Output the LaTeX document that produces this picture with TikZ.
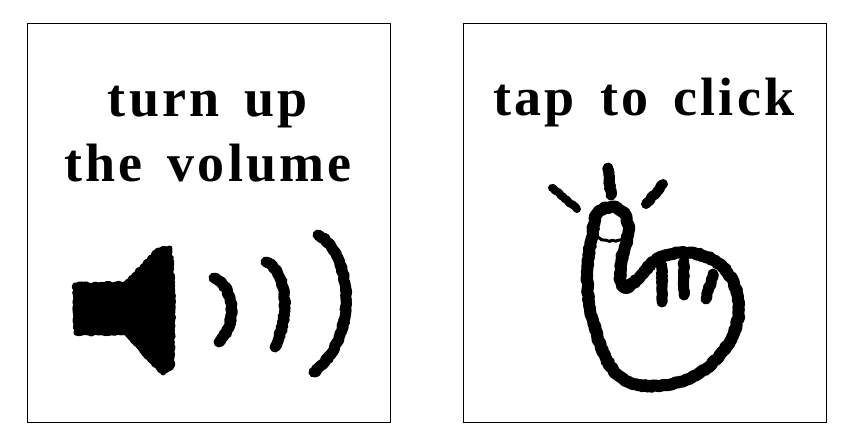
\documentclass[tikz,border=0pt]{standalone}
\usepackage{fontspec}
\setmainfont[LetterSpace=6,WordSpace=1.5]{Liberation Serif}
\usetikzlibrary{decorations.pathmorphing}
\tikzset{
  panel/.style={draw,line width=0.8pt,fill=white},
  caption/.style={font=\fontsize{54}{65}\selectfont\bfseries,align=center,inner sep=0pt},
  brush/.style={draw,line cap=round,line join=round,line width=#1,
    decoration={random steps,segment length=2pt,amplitude=0.9pt},decorate},
  brush/.default=12pt
}

\begin{document}
\begin{tikzpicture}[x=1pt,y=-1pt]
  \useasboundingbox (0,0) rectangle (851,447);
  \draw[panel] (27,23) rectangle (390,422);
  \draw[panel] (463,23) rectangle (826,422);

  \node[caption] (volume) at (208,134) {turn up\\the volume};
  \node[caption] (tap) at (644,103) {tap to click};

  % speaker
  \path[brush=5pt,fill=black] (75,285) -- (126,284) -- (158,250) -- (170,248)
    -- (173,300) -- (172,366) -- (163,373) -- (150,360) -- (127,333) -- (76,333) -- cycle;
  \path[brush=11pt] (214,278) .. controls (232,285) and (240,320) .. (219,342);
  \path[brush=11pt] (266,262) .. controls (285,270) and (292,310) .. (275,347);
  \path[brush=11pt] (318,235) .. controls (350,250) and (362,335) .. (314,372);

  % finger
  \path[brush=8pt] (552,188) -- (577,209);
  \path[brush=11pt] (608,168) -- (611,195);
  \path[brush=10pt] (663,184) -- (646,204);
  \path[brush] (593,235) .. controls (592,214) and (601,207) .. (611,207)
    .. controls (624,207) and (632,222) .. (627,240)
    .. controls (620,260) and (617,280) .. (624,287)
    .. controls (632,290) and (642,270) .. (658,258)
    .. controls (680,248) and (712,252) .. (727,272)
    .. controls (748,300) and (738,335) .. (722,352)
    .. controls (700,382) and (660,392) .. (630,383)
    .. controls (605,372) and (598,340) .. (590,310)
    .. controls (585,285) and (587,255) .. (593,235);
  \path[brush=3pt] (597,236) .. controls (605,243) and (613,242) .. (622,239);
  \path[brush=11pt] (662,266) -- (662,302);
  \path[brush=11pt] (684,262) -- (684,295);
  \path[brush=11pt] (713,274) -- (706,299);
\end{tikzpicture}
\end{document}
